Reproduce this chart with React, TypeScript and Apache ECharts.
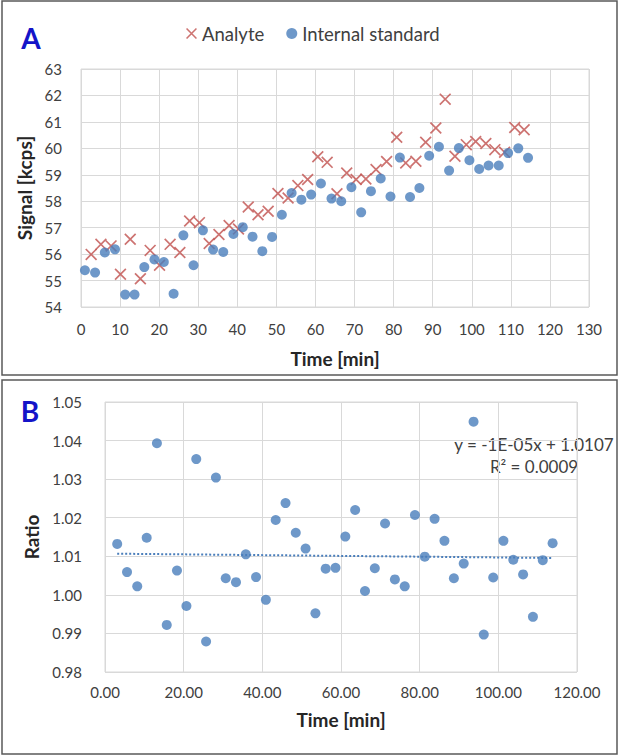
import React, { useEffect, useRef } from "react";
import * as echarts from "echarts";

// Panel A – analyte signal
const analyteTime = [2.6, 5.1, 7.7, 10.1, 12.6, 15.2, 17.7, 20.1, 22.8, 25.3, 27.8, 30.3, 32.8, 35.3, 37.9, 40.3, 42.8, 45.3, 47.9, 50.4, 53.0, 55.5, 58.0, 60.6, 63.0, 65.5, 68.0, 70.4, 72.9, 75.5, 78.2, 80.8, 83.1, 85.7, 88.2, 90.8, 93.2, 95.7, 98.6, 101.0, 103.6, 105.9, 108.4, 111.0, 113.4];
const analyteSignal = [55.99, 56.37, 56.31, 55.24, 56.56, 55.07, 56.14, 55.58, 56.37, 56.06, 57.25, 57.19, 56.4, 56.74, 57.08, 56.95, 57.78, 57.49, 57.62, 58.29, 58.12, 58.59, 58.82, 59.68, 59.47, 58.28, 59.07, 58.82, 58.84, 59.2, 59.5, 60.42, 59.45, 59.51, 60.23, 60.77, 61.86, 59.7, 60.14, 60.26, 60.18, 59.95, 59.85, 60.79, 60.7];

// Panel A – internal standard signal
const isTime = [1.0, 3.6, 6.1, 8.7, 11.3, 13.7, 16.2, 18.8, 21.2, 23.7, 26.2, 28.8, 31.2, 33.8, 36.4, 39.0, 41.4, 43.9, 46.4, 48.9, 51.4, 53.9, 56.4, 58.9, 61.4, 64.1, 66.6, 69.2, 71.7, 74.2, 76.7, 79.2, 81.6, 84.2, 86.6, 89.1, 91.6, 94.2, 96.7, 99.4, 101.9, 104.3, 106.9, 109.3, 111.9, 114.4];
const isSignal = [55.39, 55.3, 56.06, 56.18, 54.47, 54.47, 55.51, 55.8, 55.7, 54.5, 56.71, 55.58, 56.9, 56.17, 56.08, 56.76, 57.02, 56.66, 56.11, 56.65, 57.49, 58.31, 58.06, 58.25, 58.67, 58.1, 58.0, 58.53, 57.58, 58.38, 58.86, 58.18, 59.65, 58.16, 58.5, 59.72, 60.06, 59.16, 60.01, 59.55, 59.22, 59.35, 59.35, 59.82, 60.0, 59.64];

// Panel B – ratio
const ratioTime = [3.1, 5.6, 8.2, 10.6, 13.2, 15.7, 18.3, 20.7, 23.2, 25.7, 28.2, 30.7, 33.3, 35.8, 38.4, 40.9, 43.4, 45.9, 48.5, 51.0, 53.5, 56.1, 58.6, 61.1, 63.6, 66.1, 68.6, 71.2, 73.7, 76.2, 78.8, 81.3, 83.8, 86.3, 88.7, 91.2, 93.7, 96.3, 98.7, 101.3, 103.8, 106.3, 108.8, 111.3, 113.8];
const ratioValue = [1.0132, 1.0059, 1.0022, 1.0148, 1.0393, 0.9922, 1.0063, 0.9971, 1.0352, 0.9879, 1.0304, 1.0043, 1.0033, 1.0105, 1.0046, 0.9987, 1.0194, 1.0238, 1.0161, 1.012, 0.9952, 1.0068, 1.007, 1.0151, 1.022, 1.001, 1.0069, 1.0185, 1.004, 1.0022, 1.0207, 1.0099, 1.0197, 1.014, 1.0043, 1.0081, 1.0449, 0.9897, 1.0045, 1.014, 1.0091, 1.0053, 0.9943, 1.009, 1.0134];

// Linear trend shown in panel B
const trendSlope = -1e-5;
const trendIntercept = 1.0107;
const trendLabel = ["y = -1E-05x + 1.0107", "R\u00B2 = 0.0009"];

const FONT = "Lato";
const RED = "#C0504D";
const BLUE = "#4A7EBB";
const GRIDC = "#D9D9D9";
const TXT = "#404040";
const CROSS = "path://M0,1L1,0L10,9L9,10ZM9,0L10,1L1,10L0,9Z";

export default function App() {
  const ref = useRef<HTMLDivElement>(null);
  useEffect(() => {
    if (!ref.current) return;
    const chart = echarts.init(ref.current, null, { renderer: "svg" });
    const zip = (a: number[], b: number[]) => a.map((v, i) => [v, b[i]]);
    const t0 = ratioTime[0];
    const t1 = ratioTime[ratioTime.length - 1];
    const trend = [
      [t0, trendSlope * t0 + trendIntercept],
      [t1, trendSlope * t1 + trendIntercept],
    ];
    const axisCommon = {
      axisLine: { show: false },
      axisTick: { show: false },
      splitLine: { show: true, lineStyle: { color: GRIDC, width: 1 } },
      nameTextStyle: { fontFamily: FONT, fontSize: 19, fontWeight: "bold", color: "#262626" },
    };
    const labelCommon = { fontFamily: FONT, fontSize: 15, color: TXT };
    chart.setOption({
      animation: false,
      textStyle: { fontFamily: FONT },
      legend: {
        left: 186,
        top: 24,
        padding: 0,
        itemWidth: 11,
        itemHeight: 11,
        itemGap: 22,
        textStyle: { fontFamily: FONT, fontSize: 18.5, color: TXT },
        data: [
          { name: "Analyte", icon: CROSS },
          { name: "Internal standard", icon: "circle" },
        ],
      },
      grid: [
        { left: 81, top: 69, width: 508, height: 238, show: true, borderColor: GRIDC, borderWidth: 1 },
        { left: 105, top: 402, width: 472, height: 270, show: true, borderColor: GRIDC, borderWidth: 1 },
      ],
      xAxis: [
        {
          ...axisCommon,
          gridIndex: 0,
          type: "value",
          min: 0,
          max: 130,
          interval: 10,
          name: "Time [min]",
          nameLocation: "middle",
          nameGap: 42,
          axisLabel: { ...labelCommon, margin: 14 },
        },
        {
          ...axisCommon,
          gridIndex: 1,
          type: "value",
          min: 0,
          max: 120,
          interval: 20,
          name: "Time [min]",
          nameLocation: "middle",
          nameGap: 38,
          axisLabel: { ...labelCommon, margin: 12, formatter: (v: number) => v.toFixed(2) },
        },
      ],
      yAxis: [
        {
          ...axisCommon,
          gridIndex: 0,
          type: "value",
          min: 54,
          max: 63,
          interval: 1,
          name: "Signal [kcps]",
          nameLocation: "middle",
          nameGap: 43,
          axisLabel: { ...labelCommon, margin: 19 },
        },
        {
          ...axisCommon,
          gridIndex: 1,
          type: "value",
          min: 0.98,
          max: 1.05,
          interval: 0.01,
          name: "Ratio",
          nameLocation: "middle",
          nameGap: 61,
          axisLabel: { ...labelCommon, margin: 23, formatter: (v: number) => v.toFixed(2) },
        },
      ],
      series: [
        {
          name: "Analyte",
          type: "scatter",
          xAxisIndex: 0,
          yAxisIndex: 0,
          symbol: CROSS,
          symbolSize: 12,
          itemStyle: { color: RED },
          data: zip(analyteTime, analyteSignal),
        },
        {
          name: "Internal standard",
          type: "scatter",
          xAxisIndex: 0,
          yAxisIndex: 0,
          symbol: "circle",
          symbolSize: 10,
          itemStyle: { color: BLUE },
          data: zip(isTime, isSignal),
        },
        {
          name: "Trend",
          type: "line",
          xAxisIndex: 1,
          yAxisIndex: 1,
          symbol: "none",
          lineStyle: { color: BLUE, width: 2, type: [2, 2] },
          data: trend,
          z: 1,
        },
        {
          name: "Ratio",
          type: "scatter",
          xAxisIndex: 1,
          yAxisIndex: 1,
          symbol: "circle",
          symbolSize: 10,
          itemStyle: { color: BLUE },
          data: zip(ratioTime, ratioValue),
          z: 3,
        },
      ],
      graphic: [
        { type: "rect", shape: { x: 2, y: 1, width: 615, height: 374 }, style: { fill: "none", stroke: "#595959", lineWidth: 1.5 }, silent: true },
        { type: "rect", shape: { x: 2, y: 380, width: 615, height: 374 }, style: { fill: "none", stroke: "#595959", lineWidth: 1.5 }, silent: true },
        { type: "text", x: 31, y: 38, style: { text: "A", fontFamily: FONT, fontSize: 28, fontWeight: "bold", fill: "#1414C8", align: "center", verticalAlign: "middle" } },
        { type: "text", x: 30, y: 411, style: { text: "B", fontFamily: FONT, fontSize: 28, fontWeight: "bold", fill: "#1414C8", align: "center", verticalAlign: "middle" } },
        { type: "text", x: 534, y: 444, style: { text: trendLabel[0], fontFamily: FONT, fontSize: 17, fill: TXT, align: "center", verticalAlign: "middle" } },
        { type: "text", x: 534, y: 466, style: { text: trendLabel[1], fontFamily: FONT, fontSize: 17, fill: TXT, align: "center", verticalAlign: "middle" } },
      ],
    });
    return () => chart.dispose();
  }, []);
  return (
    <div
      ref={ref}
      style={{ position: "fixed", left: 0, top: 0, width: 619, height: 756, background: "#fff" }}
    />
  );
}
